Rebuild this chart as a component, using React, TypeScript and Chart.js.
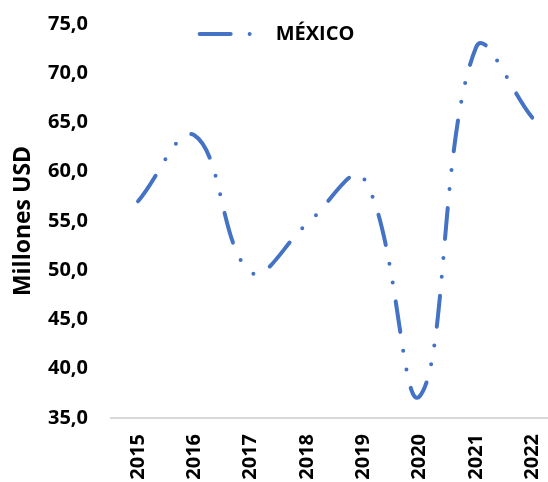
import React, { useEffect, useRef } from "react";
import { Chart, registerables } from "chart.js";

Chart.register(...registerables);

const years = [2015, 2016, 2017, 2018, 2019, 2020, 2021, 2022];
const mexico = [57.0, 63.7, 49.8, 54.7, 59.4, 37.2, 72.6, 65.5];
const seriesLabel = "MÉXICO";
const yTitle = "Millones USD";
const yMin = 35;
const yMax = 75;
const yStep = 5;

const FONT = "'Open Sans', 'Liberation Sans', sans-serif";
const BLUE = "#4472C4";
const DASH = [31, 19, 0, 19, 0, 19];

const legendOverlay = {
  id: "legendOverlay",
  afterInit(chart: any) {
    const lg = chart.legend;
    if (!lg) return;
    const orig = lg.fit.bind(lg);
    lg.fit = function () {
      orig();
      this.height = 0;
    };
  },
  afterLayout(chart: any) {
    const lg = chart.legend;
    if (!lg) return;
    lg.top = 0;
    lg.height = 60;
    lg.bottom = 60;
  },
};

export default function App() {
  const ref = useRef<HTMLCanvasElement>(null);
  useEffect(() => {
    if (!ref.current) return;
    const chart = new Chart(ref.current, {
      type: "line",
      data: {
        datasets: [
          {
            label: seriesLabel,
            data: years.map((y, i) => ({ x: y, y: mexico[i] })),
            borderColor: BLUE,
            backgroundColor: BLUE,
            borderWidth: 4,
            borderDash: DASH,
            borderCapStyle: "round",
            pointRadius: 0,
            tension: 0.4,
            fill: false,
          },
        ],
      },
      plugins: [legendOverlay],
      options: {
        animation: false,
        responsive: false,
        maintainAspectRatio: false,
        layout: { padding: { top: 24, left: 6, right: 0, bottom: 0 } },
        plugins: {
          tooltip: { enabled: false },
          legend: {
            position: "top",
            labels: {
              usePointStyle: true,
              pointStyleWidth: 66,
              padding: 24,
              color: "#000",
              font: { family: FONT, size: 20, weight: "bold" },
              generateLabels: (chart: any) =>
                chart.data.datasets.map((ds: any, i: number) => ({
                  text: ds.label,
                  datasetIndex: i,
                  fillStyle: "rgba(0,0,0,0)",
                  strokeStyle: BLUE,
                  lineWidth: 4,
                  lineDash: DASH,
                  lineCap: "round",
                  pointStyle: "line",
                  rotation: 180,
                  fontColor: "#000",
                })),
            },
          },
        },
        scales: {
          x: {
            type: "linear",
            min: 2014.52,
            max: 2022.28,
            grid: { display: false, drawTicks: false },
            border: { display: true, color: "#d9d9d9", width: 2 },
            afterBuildTicks: (scale: any) => {
              scale.ticks = years.map((v) => ({ value: v }));
            },
            afterFit: (scale: any) => {
              scale.height = 64;
              scale.paddingLeft = 0;
              scale.paddingRight = 0;
            },
            ticks: {
              minRotation: 90,
              maxRotation: 90,
              padding: 16,
              color: "#000",
              font: { family: FONT, size: 20, weight: "bold" },
              callback: (v: any) => String(v),
            },
          },
          y: {
            min: yMin,
            max: yMax,
            grid: { display: false, drawTicks: false },
            border: { display: false },
            afterFit: (scale: any) => {
              scale.width = 105;
              scale.paddingTop = 0;
              scale.paddingBottom = 0;
            },
            ticks: {
              stepSize: yStep,
              padding: 23,
              color: "#000",
              font: { family: FONT, size: 20, weight: "bold" },
              callback: (v: any) => Number(v).toFixed(1).replace(".", ","),
            },
            title: {
              display: true,
              text: yTitle,
              color: "#000",
              font: { family: FONT, size: 23, weight: "bold" },
              padding: { top: 4, bottom: 4 },
            },
          },
        },
      },
    });
    return () => chart.destroy();
  }, []);
  return (
    <div style={{ position: "fixed", left: 0, top: 0, width: 548, height: 482, background: "#fff" }}>
      <canvas ref={ref} width={548} height={482} style={{ width: 548, height: 482 }} />
    </div>
  );
}
